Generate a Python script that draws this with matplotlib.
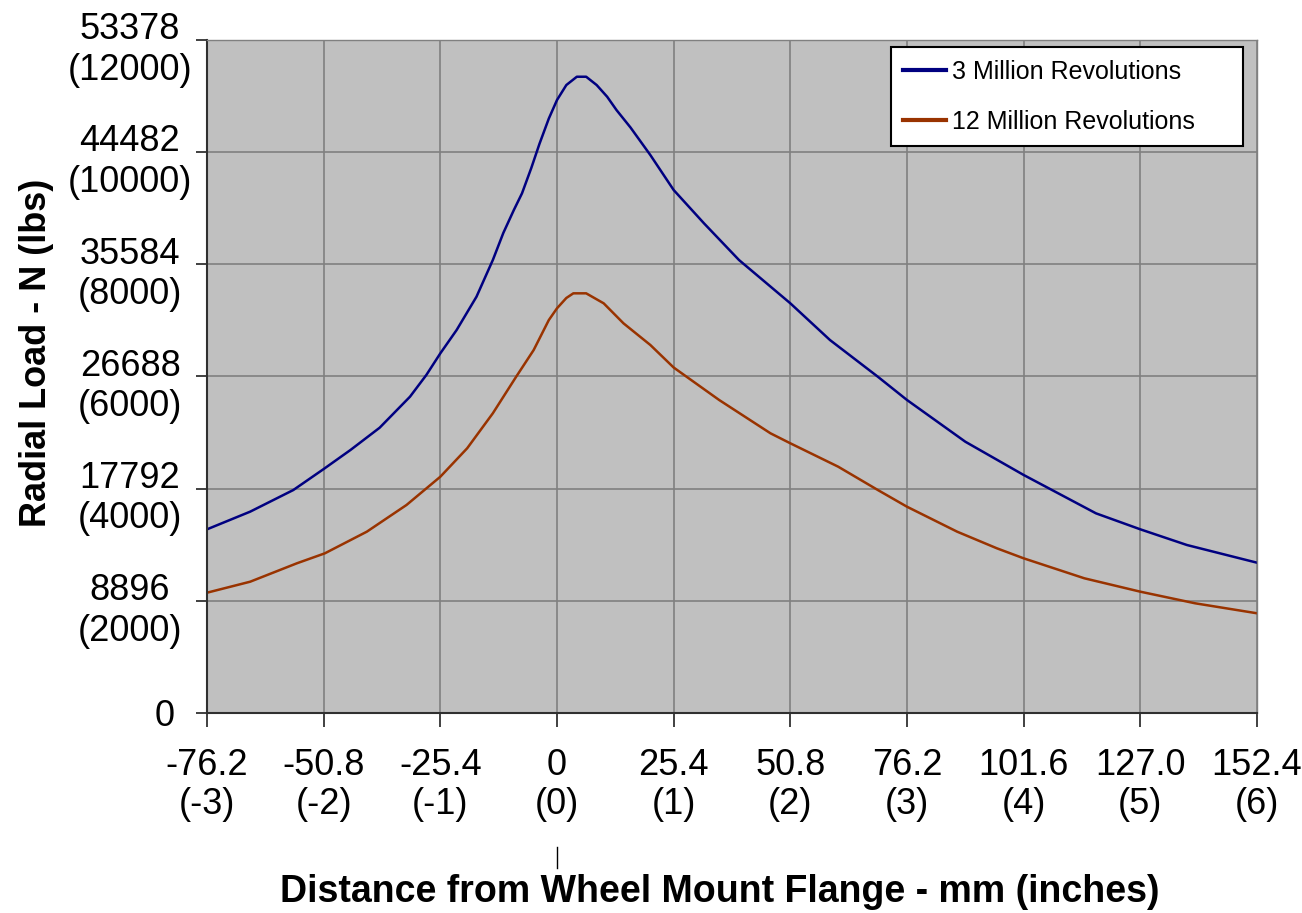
import numpy as np
import matplotlib.pyplot as plt
import matplotlib.transforms as mtransforms

plt.rcParams['font.family'] = ['Liberation Sans', 'DejaVu Sans']

# distance from flange (inches) vs radial load (lbs)
x_3m = [-3.0, -2.63, -2.26, -2.0, -1.77, -1.52, -1.26, -1.12, -1.0, -0.86,
        -0.69, -0.55, -0.46, -0.37, -0.30, -0.22, -0.15, -0.07, 0.0,
        0.08, 0.17, 0.25, 0.34, 0.43, 0.51, 0.63, 0.80, 1.0, 1.26,
        1.56, 2.0, 2.34, 2.75, 3.0, 3.5, 4.0, 4.62, 5.0, 5.4, 6.0]
load_3m = [3275, 3590, 3976, 4350, 4690, 5087, 5640, 6027, 6413, 6830,
           7423, 8077, 8560, 8968, 9266, 9720, 10150, 10600, 10930,
           11197, 11345, 11345, 11197, 10988, 10751, 10440, 9949, 9325, 8731,
           8077, 7305, 6650, 5996, 5581, 4837, 4244, 3560, 3275, 2995, 2680]

x_12m = [-3.0, -2.63, -2.23, -1.99, -1.63, -1.29, -1.0, -0.77, -0.55, -0.35,
         -0.20, -0.07, 0.0, 0.08, 0.14, 0.25, 0.40, 0.57, 0.80, 1.0, 1.39,
         1.83, 2.0, 2.41, 2.75, 3.0, 3.43, 3.77, 4.0, 4.52, 5.0, 5.47, 6.0]
load_12m = [2145, 2341, 2669, 2847, 3233, 3709, 4213, 4720, 5344, 5996,
            6472, 7007, 7216, 7400, 7483, 7483, 7305, 6948, 6562, 6160, 5581,
            4987, 4809, 4392, 3976, 3678, 3233, 2937, 2758, 2402, 2163, 1956, 1778]

series_names = ['3 Million Revolutions', '12 Million Revolutions']

x_ticks_in = [-3, -2, -1, 0, 1, 2, 3, 4, 5, 6]
x_ticks_mm = ['-76.2', '-50.8', '-25.4', '0', '25.4', '50.8', '76.2', '101.6', '127.0', '152.4']
y_ticks_lbs = [0, 2000, 4000, 6000, 8000, 10000, 12000]
y_ticks_n = ['0', '8896', '17792', '26688', '35584', '44482', '53378']

W, H = 1302, 913
fig = plt.figure(figsize=(W / 100, H / 100), dpi=100)
ax = fig.add_axes([207 / W, 200 / H, 1050 / W, 673 / H])
ax.set_facecolor('#c0c0c0')

ax.plot(x_3m, load_3m, color='#000080', lw=1.8, label=series_names[0])
ax.plot(x_12m, load_12m, color='#993300', lw=1.8, label=series_names[1])

ax.set_xlim(-3, 6)
ax.set_ylim(0, 12000)
ax.grid(True, color='#808080', lw=1.2)

ax.set_xticks(x_ticks_in)
ax.set_xticklabels([f'{mm}\n({i})' for mm, i in zip(x_ticks_mm, x_ticks_in)],
                   fontsize=26, linespacing=1.15)
ax.tick_params(axis='x', direction='out', length=10, width=1.2,
               color='#202020', pad=15)

ax.set_yticks(y_ticks_lbs)
ax.set_yticklabels([])
ax.tick_params(axis='y', direction='out', length=8, width=1.2, color='#202020')
for val, n in zip(y_ticks_lbs, y_ticks_n):
    if val == 0:
        lab, dx, dy = n, -42, -3
    else:
        lab, dx, dy = f'{n}\n({val})', -77, -10
    ax.annotate(lab, xy=(0, val), xycoords=('axes fraction', 'data'),
                xytext=(dx, dy), textcoords='offset pixels',
                ha='center', va='center', fontsize=26, linespacing=1.2,
                annotation_clip=False)

for s in ['left', 'bottom']:
    ax.spines[s].set_color('#303030')
    ax.spines[s].set_linewidth(1.5)
for s in ['top', 'right']:
    ax.spines[s].set_color('#808080')
    ax.spines[s].set_linewidth(1.0)

leg = ax.legend(loc='upper left', bbox_to_anchor=(0.6514, 0.8425, 0.3352, 0.147),
                mode='expand', borderaxespad=0, fontsize=18, handlelength=1.7,
                handletextpad=0.25, labelspacing=1.05, borderpad=0.5,
                fancybox=False, framealpha=1, edgecolor='black')
leg.get_frame().set_linewidth(1.5)
for line in leg.get_lines():
    line.set_linewidth(3)

# stray tick under the 0 label
trans = mtransforms.blended_transform_factory(ax.transData, fig.transFigure)
ax.plot([0, 0], [1 - 847 / H, 1 - 868 / H], transform=trans, clip_on=False,
        color='black', lw=1)

fig.text(720 / W, 1 - 902 / H, 'Distance from Wheel Mount Flange - mm (inches)',
         ha='center', va='baseline', fontsize=27, fontweight='bold')
fig.text(46 / W, 1 - 353 / H, 'Radial Load - N (lbs)', rotation=90,
         rotation_mode='anchor', ha='center', va='baseline',
         fontsize=26, fontweight='bold')

fig.savefig('out.png', dpi=100)
